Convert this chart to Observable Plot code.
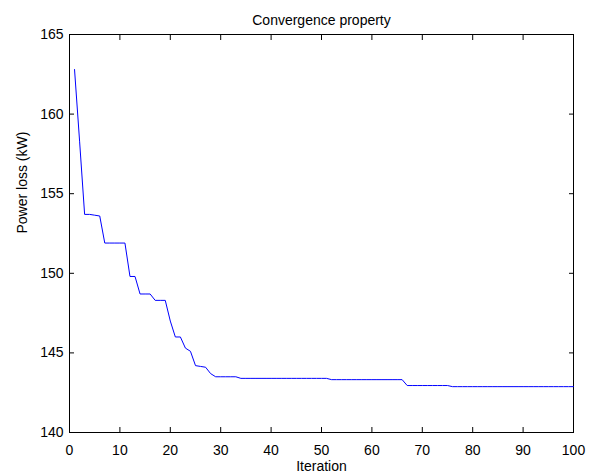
<!DOCTYPE html>
<html>
<head>
<meta charset="utf-8">
<script src="https://cdn.jsdelivr.net/npm/d3@7"></script>
<script src="https://cdn.jsdelivr.net/npm/@observablehq/plot@0.6"></script>
<style>
  html, body { margin: 0; padding: 0; background: #fff; }
  svg { display: block; }
</style>
</head>
<body>
<div id="chart"></div>
<script>
const iterations = [
  1,2,3,4,5,6,7,8,9,10,11,12,13,14,15,16,17,18,19,20,
  21,22,23,24,25,26,27,28,29,30,31,32,33,34,35,36,37,38,39,40,
  41,42,43,44,45,46,47,48,49,50,51,52,53,54,55,56,57,58,59,60,
  61,62,63,64,65,66,67,68,69,70,71,72,73,74,75,76,77,78,79,80,
  81,82,83,84,85,86,87,88,89,90,91,92,93,94,95,96,97,98,99,100
];
const powerLoss = [
  162.8,158.3,153.7,153.7,153.65,153.6,151.9,151.9,151.9,151.9,
  151.9,149.8,149.8,148.7,148.7,148.7,148.3,148.3,148.3,147.0,
  146.0,146.0,145.3,145.1,144.2,144.15,144.1,143.7,143.5,143.5,
  143.5,143.5,143.5,143.4,143.4,143.4,143.4,143.4,143.4,143.4,
  143.4,143.4,143.4,143.4,143.4,143.4,143.4,143.4,143.4,143.4,
  143.4,143.32,143.32,143.32,143.32,143.32,143.32,143.32,143.32,143.32,
  143.32,143.32,143.32,143.32,143.32,143.32,142.95,142.95,142.95,142.95,
  142.95,142.95,142.95,142.95,142.95,142.88,142.88,142.88,142.88,142.88,
  142.88,142.88,142.88,142.88,142.88,142.88,142.88,142.88,142.88,142.88,
  142.88,142.88,142.88,142.88,142.88,142.88,142.88,142.88,142.88,142.88
];
const xTicks = [0,10,20,30,40,50,60,70,80,90,100];
const yTicks = [140,145,150,155,160,165];
const titleText = "Convergence property";
const xLabel = "Iteration";
const yLabel = "Power loss (kW)";

const data = iterations.map((it, i) => ({iteration: it, loss: powerLoss[i]}));

const chart = Plot.plot({
  width: 594,
  height: 472,
  marginLeft: 69,
  marginRight: 21,
  marginTop: 34,
  marginBottom: 40,
  style: {fontFamily: "Liberation Sans, Arial, sans-serif", fontSize: "14px", background: "#fff", color: "#000"},
  x: {domain: [0, 100], ticks: xTicks},
  y: {domain: [140, 165], ticks: yTicks},
  marks: [
    Plot.axisX({anchor: "bottom", ticks: xTicks, tickSize: -5, tickPadding: 18, label: null, fontSize: 14}),
    Plot.axisX({anchor: "top", ticks: xTicks, tickSize: -5, tickFormat: () => "", label: null}),
    Plot.axisY({anchor: "left", ticks: yTicks, tickSize: -5, tickPadding: 11, label: null, fontSize: 14}),
    Plot.axisY({anchor: "right", ticks: yTicks, tickSize: -5, tickFormat: () => "", label: null}),
    Plot.frame({stroke: "#000", strokeWidth: 1}),
    Plot.line(data, {x: "iteration", y: "loss", stroke: "#0000ff", strokeWidth: 1}),
    Plot.text([titleText], {frameAnchor: "top", dy: -19, fontSize: 14, fill: "#000"}),
    Plot.text([xLabel], {frameAnchor: "bottom", dy: 38, fontSize: 14, fill: "#000"}),
    Plot.text([yLabel], {frameAnchor: "left", dx: -47, rotate: -90, fontSize: 14, fill: "#000"})
  ]
});
document.getElementById("chart").appendChild(chart);
</script>
</body>
</html>
